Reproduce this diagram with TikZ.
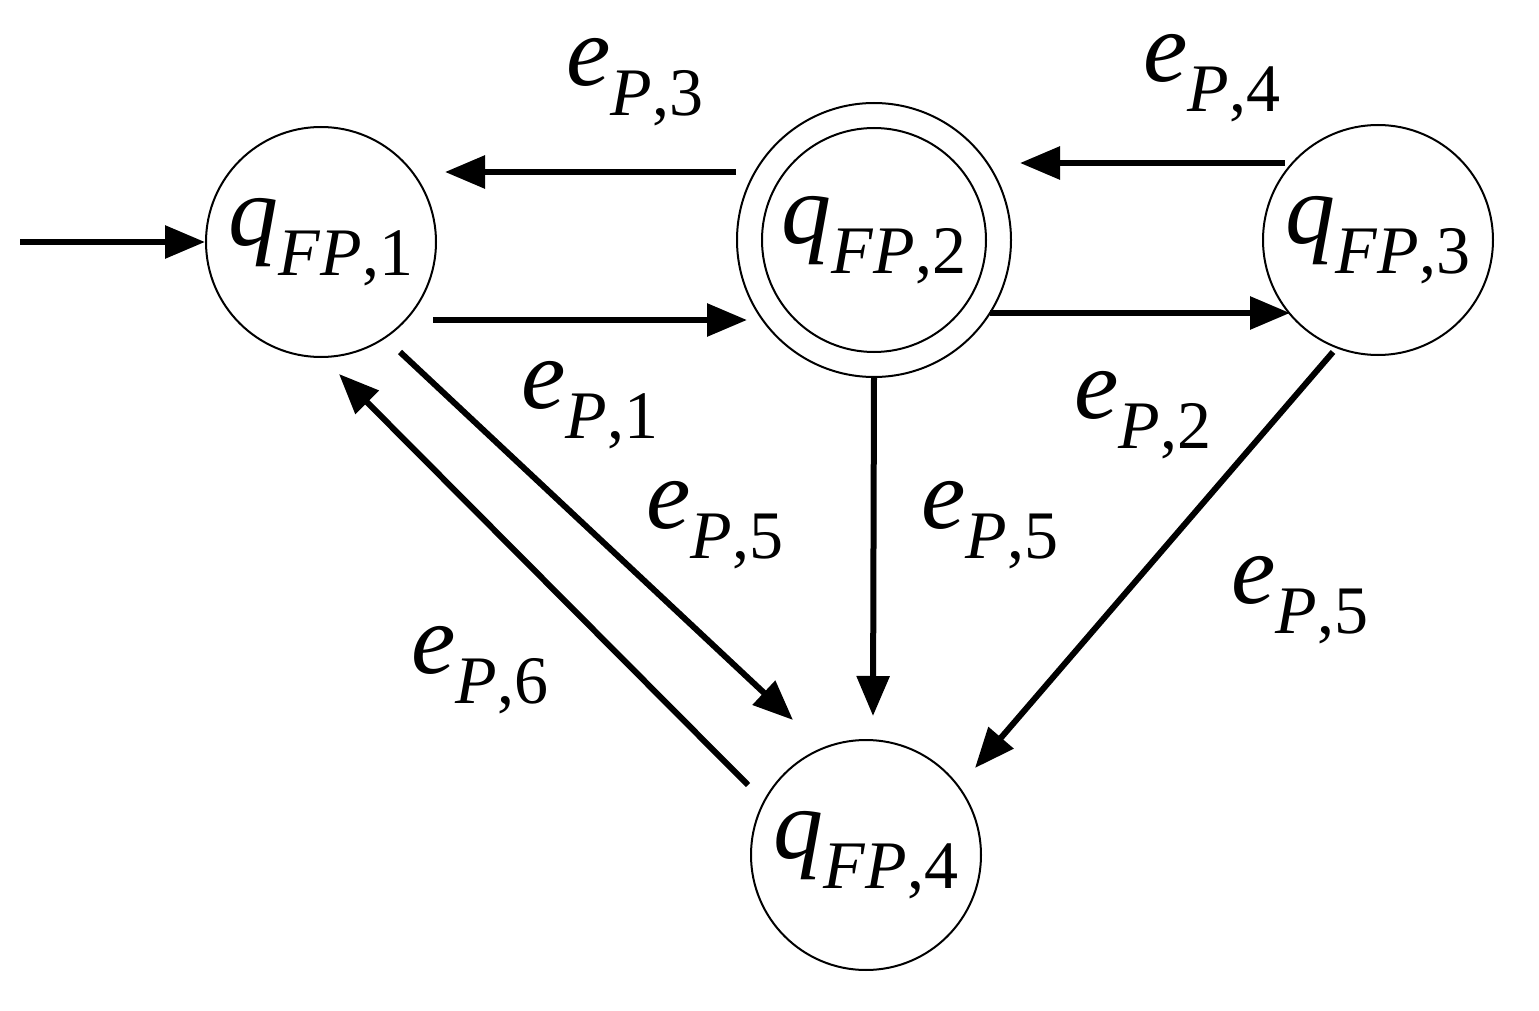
\documentclass[tikz,border=0pt]{standalone}
\usepackage{fontspec}
\setmainfont{Liberation Serif}[ItalicFont={Liberation Serif Italic}]
\usetikzlibrary{arrows.meta}
\newcommand\symsub[3]{\textit{#1}\raisebox{-0.3em}{\fontsize{34}{36}\selectfont\textit{#2},#3}}
\tikzset{
  state/.style={circle,draw,line width=1pt,minimum size=115pt,inner sep=0pt,font=\fontsize{50}{52}\selectfont},
  lab/.style={font=\fontsize{50}{52}\selectfont},
  edge/.style={line width=3pt,-{Triangle[length=20pt,width=16pt]}}
}
\begin{document}
\begin{tikzpicture}[x=0.5pt,y=0.5pt,yscale=-1,xscale=1]
\useasboundingbox (0,0) rectangle (1539,1011);
%states
\node [state] (q1) at (321,242) {\symsub{q}{FP}{1}};
\node [state,minimum size=137pt] (q2) at (874,240) {};
\node [state,minimum size=112pt] (q2in) at (874,240) {\symsub{q}{FP}{2}};
\node [state] (q3) at (1378,240) {\symsub{q}{FP}{3}};
\node [state] (q4) at (866,855) {\symsub{q}{FP}{4}};
\coordinate (start) at (20,242);
%transitions
\draw [edge] (start) -- (q1);
\draw [edge] (q2.west |- 0,172) -- (445,172);
\draw [edge] (433,320) -- (747,320);
\draw [edge] (1285,163) -- (1020,163);
\draw [edge] (990,313) -- (1290,313);
\draw [edge] (q2.south) -- (873,716);
\draw [edge] (1333,352) -- (975,768);
\draw [edge] (400,352) -- (793,720);
\draw [edge] (748,785) -- (339,374);
%labels
\node [lab] (l3) at (635,82) {\symsub{e}{P}{3}};
\node [lab] (l4) at (1212,78) {\symsub{e}{P}{4}};
\node [lab] (l1) at (590,405) {\symsub{e}{P}{1}};
\node [lab] (l2) at (1143,415) {\symsub{e}{P}{2}};
\node [lab] (l5a) at (715,525) {\symsub{e}{P}{5}};
\node [lab] (l5b) at (990,525) {\symsub{e}{P}{5}};
\node [lab] (l5c) at (1300,600) {\symsub{e}{P}{5}};
\node [lab] (l6) at (480,670) {\symsub{e}{P}{6}};
\end{tikzpicture}
\end{document}
